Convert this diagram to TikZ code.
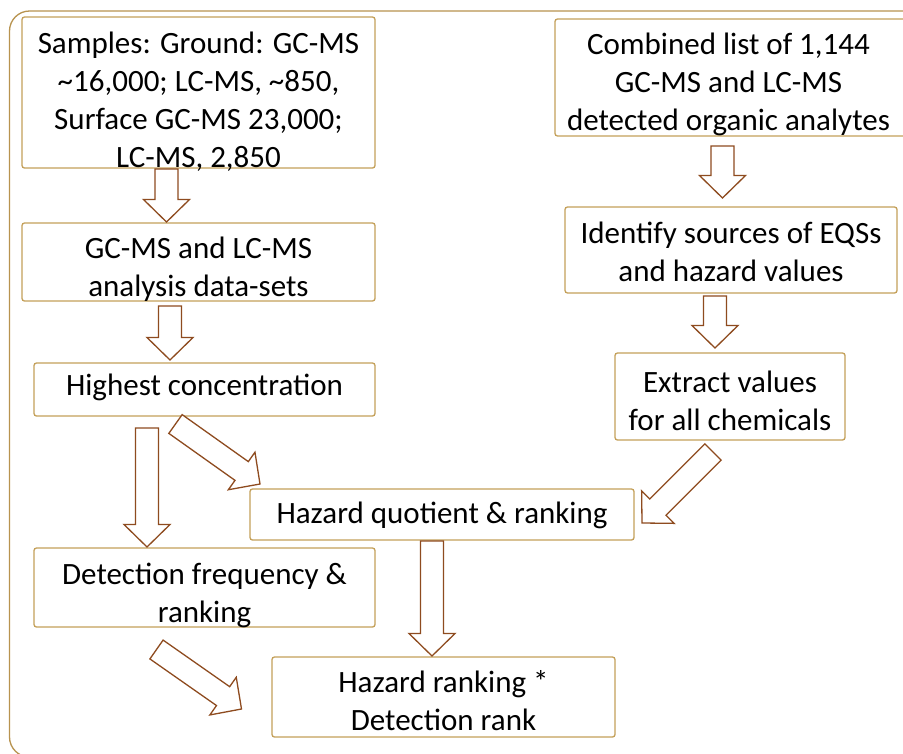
\documentclass[tikz,border=0pt]{standalone}
\usepackage{fontspec}
\setmainfont{Carlito}
\usetikzlibrary{calc,fit}
\definecolor{boxc}{HTML}{C4A05A}
\definecolor{framec}{HTML}{B8934F}
\definecolor{arrowc}{HTML}{8E4B1F}
\tikzset{
  box/.style={draw=boxc, line width=1.3pt, rounded corners=2.5pt, inner sep=0pt, fill=white},
  txt/.style={font=\fontsize{31}{38}\selectfont, align=center, inner sep=0pt, text=black},
  barrow/.style={draw=arrowc, line width=1.3pt, fill=white, line join=miter},
}
% block arrow from tail centre #1 to tip #2
\newcommand\blockarrow[2]{%
  \coordinate (ba-h) at ($(#2)!22.5pt!(#1)$);
  \draw[barrow] ($(#1)!11.5pt!90:(#2)$) -- ($(ba-h)!11.5pt!-90:(#1)$)
    -- ($(ba-h)!23pt!-90:(#1)$) -- (#2) -- ($(ba-h)!23pt!90:(#1)$)
    -- ($(ba-h)!11.5pt!90:(#1)$) -- ($(#1)!11.5pt!-90:(#2)$) -- cycle;
}
\begin{document}
\begin{tikzpicture}[x=1pt,y=-1pt]
\useasboundingbox (0,0) rectangle (903,753);
\clip (0,0) rectangle (903,753);
\fill[white] (0,0) rectangle (903,753);
% outer frame
\draw[draw=framec, line width=1.3pt, rounded corners=20pt] (9.5,11) rectangle (930,757);

% boxes
\node[box, fit={(22,17)(375,168)}] (s1) {};
\node[box, fit={(22,223)(375,301)}] (s2) {};
\node[box, fit={(34,363)(375,416)}] (s3) {};
\node[box, fit={(34,548)(375,627)}] (s4) {};
\node[box, fit={(250,489)(634,540)}] (s5) {};
\node[box, fit={(272,657)(615,737)}] (s6) {};
\node[box, fit={(555,19)(908,136)}] (s7) {};
\node[box, fit={(565,207)(897,293)}] (s8) {};
\node[box, fit={(615,353)(845,440)}] (s9) {};

% texts
\node[txt] (s1t) at (198.5,101.6) {Samples: Ground: GC-MS\\\textasciitilde16,000; LC-MS, \textasciitilde850,\\Surface GC-MS 23,000;\\LC-MS, 2,850};
\node[txt] (s2t) at (198.5,269.4) {GC-MS and LC-MS\\analysis data-sets};
\node[txt] (s3t) at (204.5,387.4) {Highest concentration};
\node[txt] (s4t) at (204.5,595) {Detection frequency \&\\ranking};
\node[txt] (s5t) at (442,515.4) {Hazard quotient \& ranking};
\node[txt] (s6t) at (443.5,700.2) {Hazard ranking *\\Detection rank};
\node[txt] (s7t) at (728.5,84.7) {Combined list of 1,144\\GC-MS and LC-MS\\detected organic analytes};
\node[txt] (s8t) at (731,252) {Identify sources of EQSs\\and hazard values};
\node[txt] (s9t) at (730,400.7) {Extract values\\for all chemicals};

% arrow end points
\coordinate (a1s) at (166.5,169);  \coordinate (a1e) at (166.5,222);
\coordinate (a2s) at (170,306);    \coordinate (a2e) at (170,360);
\coordinate (a3s) at (147,428);    \coordinate (a3e) at (147,547);
\coordinate (a4s) at (175.5,424);  \coordinate (a4e) at (260,484);
\coordinate (a5s) at (713,452);    \coordinate (a5e) at (642,523);
\coordinate (a6s) at (156.5,649.5);\coordinate (a6e) at (241.5,709);
\coordinate (a7s) at (432,541);    \coordinate (a7e) at (432,656);
\coordinate (a8s) at (722.5,146);  \coordinate (a8e) at (722.5,198);
\coordinate (a9s) at (715,296);    \coordinate (a9e) at (715,348);

\blockarrow{a1s}{a1e}
\blockarrow{a2s}{a2e}
\blockarrow{a3s}{a3e}
\blockarrow{a4s}{a4e}
\blockarrow{a5s}{a5e}
\blockarrow{a6s}{a6e}
\blockarrow{a7s}{a7e}
\blockarrow{a8s}{a8e}
\blockarrow{a9s}{a9e}
\end{tikzpicture}
\end{document}
